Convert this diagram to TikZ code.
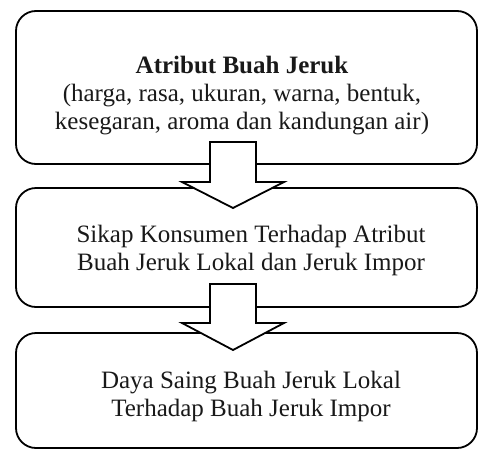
\documentclass[tikz,border=0pt]{standalone}
\usepackage{fontspec}
\setmainfont{Liberation Serif}
\begin{document}
\begin{tikzpicture}[x=1pt,y=-1pt,
  box/.style={draw=black,line width=1.8pt,rounded corners=20pt,fill=none,inner sep=0pt},
  txt/.style={align=center,font=\fontsize{25}{28}\selectfont,inner sep=0pt,text=black!90},
  bigarrow/.style={draw=black,line width=1.8pt,fill=white,line join=miter}]
\useasboundingbox (0,0) rectangle (478,450);
\node[box,minimum width=461pt,minimum height=153pt] (b1) at (246.5,87.5) {};
\node[box,minimum width=461pt,minimum height=119pt] (b2) at (246.5,247.5) {};
\node[box,minimum width=461pt,minimum height=115pt] (b3) at (246.5,390.5) {};
\node[txt] (t1) at (242,96) {\textbf{Atribut Buah Jeruk}\\(harga, rasa, ukuran, warna, bentuk,\\kesegaran, aroma dan kandungan air)};
\node[txt] (t2) at (251,250) {Sikap Konsumen Terhadap Atribut\\Buah Jeruk Lokal dan Jeruk Impor};
\node[txt] (t3) at (251,396) {Daya Saing Buah Jeruk Lokal\\Terhadap Buah Jeruk Impor};
\draw[bigarrow] (210,142) -- (256,142) -- (256,182) -- (284,182) -- (233,208) -- (182,182) -- (210,182) -- cycle;
\draw[bigarrow] (210,284) -- (256,284) -- (256,323) -- (284,323) -- (233,350) -- (182,323) -- (210,323) -- cycle;
\end{tikzpicture}
\end{document}
